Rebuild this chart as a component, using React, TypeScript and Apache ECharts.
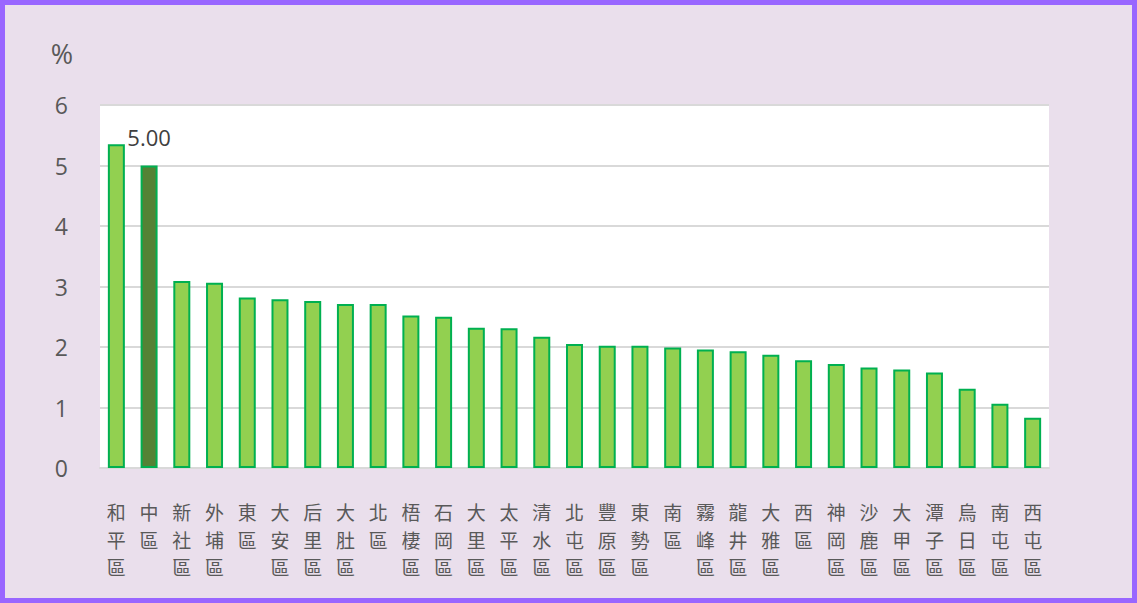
import React, { useEffect, useRef } from "react";
import * as echarts from "echarts";

const categories = [
  "和平區", "中區", "新社區", "外埔區", "東區", "大安區", "后里區", "大肚區", "北區", "梧棲區",
  "石岡區", "大里區", "太平區", "清水區", "北屯區", "豐原區", "東勢區", "南區", "霧峰區", "龍井區",
  "大雅區", "西區", "神岡區", "沙鹿區", "大甲區", "潭子區", "烏日區", "南屯區", "西屯區",
];
const values = [
  5.35, 5.0, 3.09, 3.06, 2.82, 2.79, 2.76, 2.71, 2.71, 2.52,
  2.5, 2.32, 2.31, 2.17, 2.05, 2.02, 2.02, 1.99, 1.96, 1.93,
  1.87, 1.78, 1.72, 1.66, 1.63, 1.58, 1.31, 1.06, 0.83,
];
const highlightName = "中區";
const yTicks = { min: 0, max: 6, interval: 1 };
const unitLabel = "%";

export default function App() {
  const ref = useRef<HTMLDivElement>(null);
  useEffect(() => {
    document.body.style.margin = "0";
    const chart = echarts.init(ref.current!, null, { renderer: "svg" });
    const data = values.map((v, i) => {
      const hi = categories[i] === highlightName;
      return {
        value: v,
        itemStyle: hi ? { color: "#548235" } : undefined,
        label: hi
          ? {
              show: true,
              position: "top",
              distance: 18,
              formatter: (p: any) => Number(p.value).toFixed(2),
              color: "#404040",
              fontSize: 22,
              fontFamily: "Open Sans",
            }
          : undefined,
      };
    });
    chart.setOption({
      animation: false,
      backgroundColor: "#EADFEC",
      graphic: [
        {
          type: "rect",
          shape: { x: 2.5, y: 2.5, width: 1132, height: 598 },
          style: { fill: "none", stroke: "#9966FF", lineWidth: 5 },
          z: 100,
        },
      ],
      grid: {
        left: 100,
        right: 88,
        top: 105,
        bottom: 135,
        show: true,
        backgroundColor: "#FFFFFF",
        borderWidth: 0,
      },
      xAxis: {
        type: "category",
        data: categories,
        axisLine: { show: true, lineStyle: { color: "#D9D9D9", width: 2 } },
        axisTick: { show: false },
        axisLabel: {
          interval: 0,
          margin: 30,
          color: "#595959",
          fontSize: 19,
          lineHeight: 27.5,
          fontFamily: "Noto Sans CJK TC",
          verticalAlign: "top",
          formatter: (s: string) => s.split("").join("\n"),
        },
      },
      yAxis: {
        type: "value",
        min: yTicks.min,
        max: yTicks.max,
        interval: yTicks.interval,
        name: unitLabel,
        nameLocation: "end",
        nameGap: 52,
        nameTextStyle: {
          color: "#595959",
          fontSize: 27,
          fontFamily: "Open Sans",
          align: "right",
          verticalAlign: "middle",
          padding: [0, 27, 0, 0],
        },
        axisLine: { show: false },
        axisTick: { show: false },
        splitLine: { lineStyle: { color: "#D9D9D9", width: 2 } },
        axisLabel: {
          color: "#595959",
          fontSize: 23,
          margin: 32,
          fontFamily: "Open Sans",
        },
      },
      series: [
        {
          type: "bar",
          data,
          barWidth: 17,
          itemStyle: { color: "#92D050", borderColor: "#00B050", borderWidth: 2 },
        },
      ],
    });
    return () => chart.dispose();
  }, []);
  return <div ref={ref} style={{ width: 1137, height: 603 }} />;
}
